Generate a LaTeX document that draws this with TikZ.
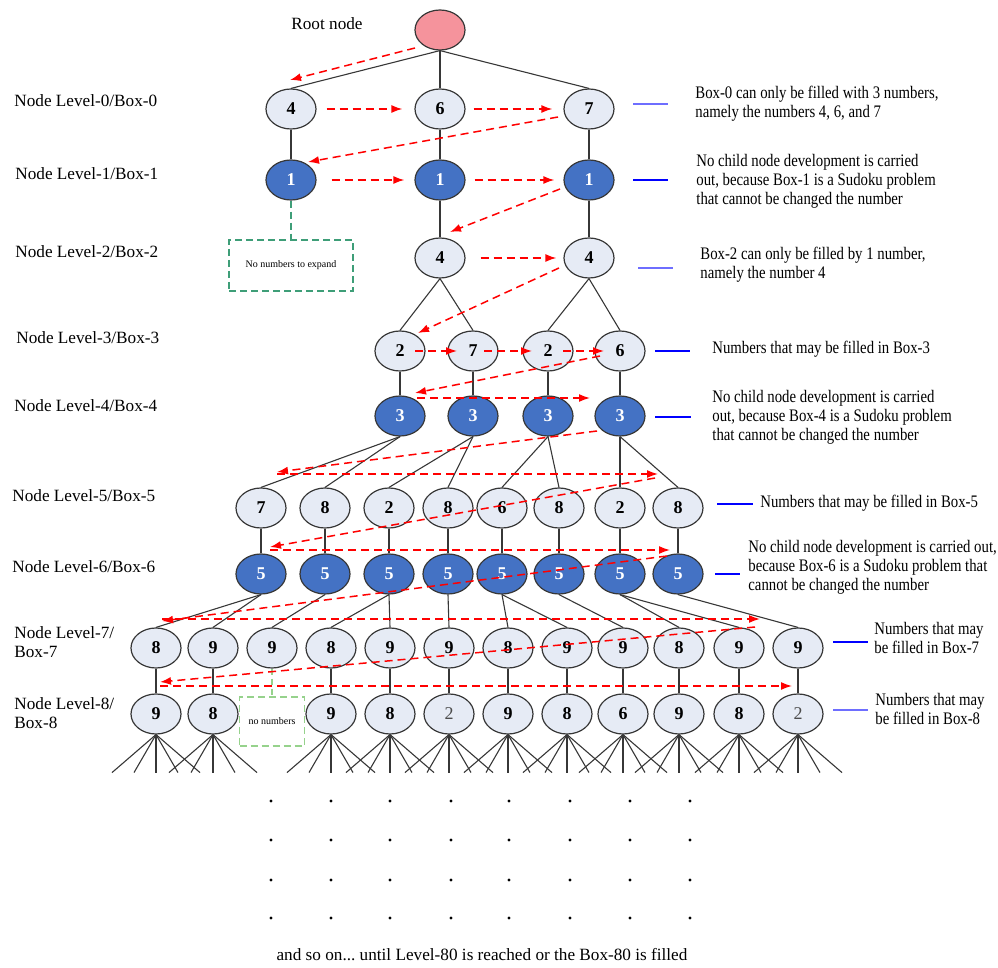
\documentclass[tikz,border=0pt]{standalone}
\usepackage{fontspec}
\setmainfont{Liberation Serif}
\newfontfamily\notefont[FakeStretch=0.84]{Liberation Serif}
\usetikzlibrary{shapes.geometric,arrows.meta}

\definecolor{cellfill}{RGB}{230,235,245}
\definecolor{cellblue}{RGB}{68,114,196}
\definecolor{rootpink}{RGB}{245,147,156}
\definecolor{linkgray}{RGB}{55,55,55}
\definecolor{walkred}{RGB}{255,0,0}
\definecolor{tickblue}{RGB}{0,0,255}
\definecolor{tickpale}{RGB}{110,110,255}
\definecolor{gapgreen}{RGB}{62,158,120}
\definecolor{gappale}{RGB}{150,210,140}

\begin{document}
\begin{tikzpicture}[x=0.5pt, y=-0.5pt, font=\fontsize{8.6}{9.5}\selectfont,
    cell/.style={ellipse, draw=linkgray, line width=0.6pt, fill=cellfill, minimum width=25pt, minimum height=20pt, inner sep=0pt, font=\fontsize{9}{9}\selectfont\bfseries},
    cellfix/.style={cell, fill=cellblue, text=white},
    cellthin/.style={cell, font=\fontsize{9}{9}\selectfont, text=black!70},
    link/.style={draw=linkgray, line width=0.55pt},
    walk/.style={walkred, line width=0.75pt, dash pattern=on 4pt off 2.5pt, -{Latex[length=5.5pt,width=4pt]}},
    gapbox/.style={draw=gapgreen, dash pattern=on 3.5pt off 2pt, line width=0.6pt, inner sep=0pt, font=\fontsize{5}{6}\selectfont},
    tick/.style={tickblue, line width=0.6pt},
    note/.style={anchor=west, align=left, inner sep=0pt, font=\notefont\fontsize{8.8}{9.5}\selectfont},
    lvl/.style={anchor=west, align=left, inner sep=0pt}]

\useasboundingbox (0,0) rectangle (998,968);

% tree nodes
\node[cell, fill=rootpink] (r) at (440,30) {};
\node[lvl, anchor=center] (rlab) at (327,24) {Root node};

\node[cell] (n0a) at (291,109) {4};
\node[cell] (n0b) at (440,109) {6};
\node[cell] (n0c) at (589,109) {7};

\node[cellfix] (n1a) at (291,180) {1};
\node[cellfix] (n1b) at (440,180) {1};
\node[cellfix] (n1c) at (589,180) {1};

\node[gapbox, minimum width=62pt, minimum height=25.5pt] (x1) at (291,265.5) {No numbers to expand};
\node[cell] (n2a) at (440,258) {4};
\node[cell] (n2b) at (589,258) {4};

\node[cell] (n3a) at (400,351) {2};
\node[cell] (n3b) at (473,351) {7};
\node[cell] (n3c) at (548,351) {2};
\node[cell] (n3d) at (620,351) {6};

\node[cellfix] (n4a) at (400,416) {3};
\node[cellfix] (n4b) at (473,416) {3};
\node[cellfix] (n4c) at (548,416) {3};
\node[cellfix] (n4d) at (620,416) {3};

\node[cell] (n5a) at (261,508) {7};
\node[cell] (n5b) at (325,508) {8};
\node[cell] (n5c) at (389,508) {2};
\node[cell] (n5d) at (448,508) {8};
\node[cell] (n5e) at (502,508) {6};
\node[cell] (n5f) at (559,508) {8};
\node[cell] (n5g) at (620,508) {2};
\node[cell] (n5h) at (678,508) {8};

\node[cellfix] (n6a) at (261,574) {5};
\node[cellfix] (n6b) at (325,574) {5};
\node[cellfix] (n6c) at (389,574) {5};
\node[cellfix] (n6d) at (448,574) {5};
\node[cellfix] (n6e) at (502,574) {5};
\node[cellfix] (n6f) at (559,574) {5};
\node[cellfix] (n6g) at (620,574) {5};
\node[cellfix] (n6h) at (678,574) {5};

\node[cell] (n7a) at (156,648) {8};
\node[cell] (n7b) at (213,648) {9};
\node[cell] (n7c) at (272,648) {9};
\node[cell] (n7d) at (331,648) {8};
\node[cell] (n7e) at (390,648) {9};
\node[cell] (n7f) at (449,648) {9};
\node[cell] (n7g) at (508,648) {8};
\node[cell] (n7h) at (567,648) {9};
\node[cell] (n7i) at (623,648) {9};
\node[cell] (n7j) at (679,648) {8};
\node[cell] (n7k) at (739,648) {9};
\node[cell] (n7l) at (798,648) {9};

\node[cell] (n8a) at (156,714) {9};
\node[cell] (n8b) at (213,714) {8};
\node[gapbox, draw=gappale, minimum width=32.5pt, minimum height=24.5pt] (x2) at (272,721.5) {no numbers};
\node[cell] (n8d) at (331,714) {9};
\node[cell] (n8e) at (390,714) {8};
\node[cellthin] (n8f) at (449,714) {2};
\node[cell] (n8g) at (508,714) {9};
\node[cell] (n8h) at (567,714) {8};
\node[cell] (n8i) at (623,714) {6};
\node[cell] (n8j) at (679,714) {9};
\node[cell] (n8k) at (739,714) {8};
\node[cellthin] (n8l) at (798,714) {2};

% tree edges
\foreach \p/\c in {r/n0a, r/n0b, r/n0c, n0a/n1a, n0b/n1b, n0c/n1c, n1b/n2a, n1c/n2b,
    n2a/n3a, n2a/n3b, n2b/n3c, n2b/n3d, n3a/n4a, n3b/n4b, n3c/n4c, n3d/n4d,
    n4a/n5a, n4a/n5b, n4b/n5c, n4b/n5d, n4c/n5e, n4c/n5f, n4d/n5g, n4d/n5h,
    n5a/n6a, n5b/n6b, n5c/n6c, n5d/n6d, n5e/n6e, n5f/n6f, n5g/n6g, n5h/n6h,
    n6a/n7a, n6a/n7b, n6b/n7c, n6c/n7d, n6c/n7e, n6d/n7f, n6e/n7g, n6e/n7h,
    n6f/n7i, n6g/n7j, n6g/n7k, n6h/n7l,
    n7a/n8a, n7b/n8b, n7d/n8d, n7e/n8e, n7f/n8f, n7g/n8g, n7h/n8h, n7i/n8i,
    n7j/n8j, n7k/n8k, n7l/n8l}
  \draw[link] (\p.south) -- (\c.north);

\draw[gapgreen, line width=0.6pt, dash pattern=on 3.5pt off 2pt] (n1a.south) -- (x1.north);
\draw[gappale, line width=0.6pt, dash pattern=on 3pt off 2pt] (n7c.south) -- (x2.north);

\foreach \n in {n8a,n8b,n8d,n8e,n8f,n8g,n8h,n8i,n8j,n8k,n8l}
  \foreach \d in {-44,-22,0,22,44}
    \draw[link] (\n.south) -- ++(\d,38);

% search walk
\coordinate (p1) at (415,48);   \coordinate (q1) at (290,80);
\coordinate (p2) at (558,117);  \coordinate (q2) at (308,162);
\coordinate (p3) at (560,189);  \coordinate (q3) at (450,232);
\coordinate (p4) at (559,268);  \coordinate (q4) at (418,333);
\coordinate (p5) at (600,356);  \coordinate (q5) at (415,393);
\coordinate (p6) at (417,398);  \coordinate (q6) at (590,398);
\coordinate (p7) at (597,431);  \coordinate (q7) at (277,472);
\coordinate (p8) at (277,474);  \coordinate (q8) at (658,474);
\coordinate (p9) at (655,478);  \coordinate (q9) at (270,547);
\coordinate (p10) at (270,550); \coordinate (q10) at (670,550);
\coordinate (p11) at (667,556); \coordinate (q11) at (162,621);
\coordinate (p12) at (162,619); \coordinate (q12) at (760,619);
\coordinate (p13) at (755,627); \coordinate (q13) at (160,682);
\coordinate (p14) at (160,686); \coordinate (q14) at (792,686);

\draw[walk] (p1) -- (q1);
\draw[walk, shorten <=5pt, shorten >=6pt] (n0a) -- (n0b);
\draw[walk, shorten <=4pt, shorten >=5.5pt] (n0b) -- (n0c);
\draw[walk] (p2) -- (q2);
\draw[walk, shorten <=7.5pt, shorten >=5pt] (n1a) -- (n1b);
\draw[walk, shorten <=4.5pt, shorten >=4.5pt] (n1b) -- (n1c);
\draw[walk] (p3) -- (q3);
\draw[walk, shorten <=7.5pt, shorten >=3.5pt] (n2a) -- (n2b);
\draw[walk] (p4) -- (q4);
\draw[walk, shorten <=7.5pt, shorten >=8pt] (n3a.center) -- (n3b.center);
\draw[walk, shorten <=5.5pt, shorten >=8pt] (n3b.center) -- (n3c.center);
\draw[walk, shorten <=7.5pt, shorten >=8pt] (n3c.center) -- (n3d.center);
\draw[walk] (p5) -- (q5);
\draw[walk] (p6) -- (q6);
\draw[walk] (p7) -- (q7);
\draw[walk] (p8) -- (q8);
\draw[walk] (p9) -- (q9);
\draw[walk] (p10) -- (q10);
\draw[walk] (p11) -- (q11);
\draw[walk] (p12) -- (q12);
\draw[walk] (p13) -- (q13);
\draw[walk] (p14) -- (q14);

% level labels
\node[lvl] (l0) at (14,101) {Node Level-0/Box-0};
\node[lvl] (l1) at (15,174) {Node Level-1/Box-1};
\node[lvl] (l2) at (15,252) {Node Level-2/Box-2};
\node[lvl] (l3) at (16,338) {Node Level-3/Box-3};
\node[lvl] (l4) at (14,406) {Node Level-4/Box-4};
\node[lvl] (l5) at (12,496) {Node Level-5/Box-5};
\node[lvl] (l6) at (12,567) {Node Level-6/Box-6};
\node[lvl] (l7) at (14,642) {Node Level-7/\\Box-7};
\node[lvl] (l8) at (14,713) {Node Level-8/\\Box-8};

% notes on the right
\draw[tick, tickpale] (633,104) -- (668,104);
\node[note] (t0) at (695,104) {Box-0 can only be filled with 3 numbers,\\namely the numbers 4, 6, and 7};
\draw[tick] (633,180) -- (668,180);
\node[note] (t1) at (696,181) {No child node development is carried\\out, because Box-1 is a Sudoku problem\\that cannot be changed the number};
\draw[tick, tickpale] (638,268) -- (673,268);
\node[note] (t2) at (700,265) {Box-2 can only be filled by 1 number,\\namely the number 4};
\draw[tick] (655,351) -- (690,351);
\node[note] (t3) at (712,349) {Numbers that may be filled in Box-3};
\draw[tick] (655,417) -- (691,417);
\node[note] (t4) at (712,417) {No child node development is carried\\out, because Box-4 is a Sudoku problem\\that cannot be changed the number};
\draw[tick] (717,504) -- (753,504);
\node[note] (t5) at (760,503) {Numbers that may be filled in Box-5};
\draw[tick] (715,574) -- (740,574);
\node[note] (t6) at (748,567) {No child node development is carried out,\\because Box-6 is a Sudoku problem that\\cannot be changed the number};
\draw[tick] (833,642) -- (868,642);
\node[note] (t7) at (874,638) {Numbers that may\\be filled in Box-7};
\draw[tick, tickpale] (833,710) -- (868,710);
\node[note] (t8) at (875,709) {Numbers that may\\be filled in Box-8};

% continuation
\foreach \x in {271,331,390,451,509,570,630,690}
  \foreach \y in {801,840,880,918}
    \fill (\x,\y) circle (0.8pt);
\node (more) at (482,955) {\frenchspacing and so on... until Level-80 is reached or the Box-80 is filled};

\end{tikzpicture}
\end{document}
